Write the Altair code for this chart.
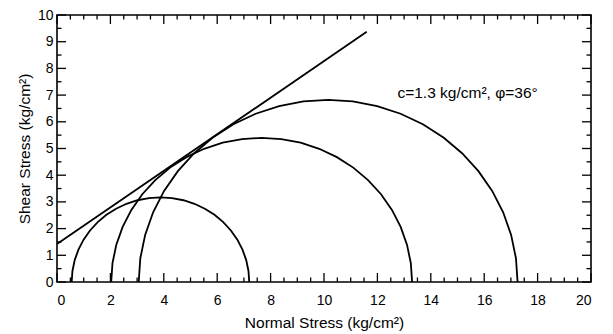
import numpy as np
import pandas as pd
import altair as alt

# Mohr circles
sigma3 = [0.55, 2.03, 3.06]        # left end of each circle (kg/cm2)
sigma1 = [7.2, 13.3, 17.25]        # right end of each circle (kg/cm2)
peak_tau = [3.17, 5.40, 6.82]      # top of each circle as drawn (kg/cm2)

# Failure envelope
env_sigma = [0.0, 11.6]
env_tau = [1.42, 9.37]

x_major = [0, 2, 4, 6, 8, 10, 12, 14, 16, 18, 20]
y_major = [0, 1, 2, 3, 4, 5, 6, 7, 8, 9, 10]
x_minor = [v + d for v in x_major[:-1] for d in (0.5, 1.0, 1.5)]
x_minor = [v for v in x_minor if v not in x_major]
y_minor = [v + 0.5 for v in y_major[:-1]]

annotation = "c=1.3 kg/cm², φ=36°"

W, H = 534, 267
SEG = 24
FONT = "Liberation Sans"

rows = []
for i, (a, b, p) in enumerate(zip(sigma3, sigma1, peak_tau)):
    c = (a + b) / 2
    r = (b - a) / 2
    for k, t in enumerate(np.linspace(np.pi, 0, SEG + 1)):
        rows.append({"circle": i, "k": k, "sigma": c + r * np.cos(t), "tau": p * np.sin(t)})
circles = pd.DataFrame(rows)
env = pd.DataFrame({"sigma": env_sigma, "tau": env_tau, "k": [0, 1]})

xs = alt.Scale(domain=[0, 20], nice=False, zero=False)
ys = alt.Scale(domain=[0, 10], nice=False, zero=False)

ax_x = alt.Axis(values=x_major, ticks=False, domain=False, grid=False,
                labelOverlap=False, labelFont=FONT, labelFontSize=14,
                labelColor="black", labelPadding=11,
                title="Normal Stress (kg/cm²)", titleFont=FONT, titleFontSize=15.5,
                titleColor="black", titleFontWeight="normal", titlePadding=8)
ax_y = alt.Axis(values=y_major, ticks=False, domain=False, grid=False,
                labelOverlap=False, labelFont=FONT, labelFontSize=14,
                labelColor="black", labelPadding=4,
                title="Shear Stress (kg/cm²)", titleFont=FONT, titleFontSize=15.5,
                titleColor="black", titleFontWeight="normal", titlePadding=5)

def X(f="sigma"):
    return alt.X(f"{f}:Q", scale=xs, axis=ax_x)

def Y(f="tau"):
    return alt.Y(f"{f}:Q", scale=ys, axis=ax_y)

circ = alt.Chart(circles).mark_line(color="black", strokeWidth=1.8).encode(
    x=X(), y=Y(), detail="circle:N", order="k:Q")
envl = alt.Chart(env).mark_line(color="black", strokeWidth=1.8).encode(
    x=X(), y=Y(), order="k:Q")

txt = alt.Chart(pd.DataFrame({"sigma": [12.75], "tau": [7.08], "t": [annotation]})).mark_text(
    align="left", baseline="middle", fontSize=15.5, font=FONT, color="black").encode(
    x=X(), y=Y(), text="t:N")

def xticks(vals, length):
    d = pd.DataFrame({"sigma": vals})
    bot = alt.Chart(d).mark_rule(color="black", strokeWidth=1.3).encode(
        x=X(), y=alt.value(H), y2=alt.value(H - length))
    top = alt.Chart(d).mark_rule(color="black", strokeWidth=1.3).encode(
        x=X(), y=alt.value(0), y2=alt.value(length))
    return [bot, top]

def yticks(vals, length):
    d = pd.DataFrame({"tau": vals})
    left = alt.Chart(d).mark_rule(color="black", strokeWidth=1.3).encode(
        y=Y(), x=alt.value(0), x2=alt.value(length))
    right = alt.Chart(d).mark_rule(color="black", strokeWidth=1.3).encode(
        y=Y(), x=alt.value(W), x2=alt.value(W - length))
    return [left, right]

layers = [circ, envl, txt] + xticks(x_major, 9) + xticks(x_minor, 4.5) + yticks(y_major, 9) + yticks(y_minor, 4.5)

chart = alt.layer(*layers).properties(
    width=W, height=H,
    autosize=alt.AutoSizeParams(type="none"),
    padding={"left": 49, "top": 7, "right": 10, "bottom": 50},
).configure_view(stroke="black", strokeWidth=1.6)

chart.save("out.html", embed_options={"renderer": "svg", "actions": False})
